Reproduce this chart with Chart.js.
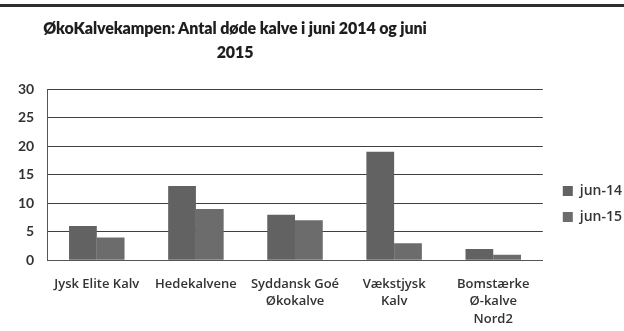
<!DOCTYPE html>
<html>
<head>
<meta charset="utf-8">
<script src="https://cdn.jsdelivr.net/npm/chart.js@4"></script>
<style>
  html, body { margin: 0; padding: 0; background: #fff; }
  #wrap { position: relative; width: 624px; height: 331px; overflow: hidden; background: #fff; }
  #topline { position: absolute; left: 0; top: 4px; width: 624px; height: 3px; background: #2e2e2e; }
  #title {
    position: absolute; left: 15px; top: 16px; width: 440px;
    text-align: center; font: 800 16px Lato, "DejaVu Sans", sans-serif;
    color: #1e1e1e; line-height: 24px; letter-spacing: -0.1px;
  }
  #chartBox { position: absolute; left: 0; top: 0; width: 624px; height: 331px; }
</style>
</head>
<body>
<div id="wrap">
  <div id="topline"></div>
  <div id="chartBox"><canvas id="calfChart"></canvas></div>
  <div id="title">ØkoKalvekampen: Antal døde kalve i juni 2014 og juni<br>2015</div>
</div>
<script>
// Herds and number of dead calves per month
const herds = [
  "Jysk Elite Kalv",
  "Hedekalvene",
  ["Syddansk Goé", "Økokalve"],
  ["Vækstjysk", "Kalv"],
  ["Bomstærke", "Ø-kalve", "Nord2"]
];
const seriesNames = ["jun-14", "jun-15"];
const deadJun14 = [6, 13, 8, 19, 2];
const deadJun15 = [4, 9, 7, 3, 1];
const yTicks = [0, 5, 10, 15, 20, 25, 30];

const ink = "#333";

// nudge the legend up and to the right
const legendNudge = {
  id: "legendNudge",
  afterLayout(chart) {
    const lg = chart.legend;
    if (!lg) return;
    lg.top -= 6; lg.bottom -= 6;
    lg.left += 8; lg.right += 8;
  }
};

const ctx = document.getElementById("calfChart").getContext("2d");
new Chart(ctx, {
  type: "bar",
  data: {
    labels: herds,
    datasets: [
      { label: seriesNames[0], data: deadJun14, backgroundColor: "#626262" },
      { label: seriesNames[1], data: deadJun15, backgroundColor: "#6c6c6c" }
    ]
  },
  plugins: [legendNudge],
  options: {
    responsive: true,
    maintainAspectRatio: false,
    animation: false,
    layout: { padding: { top: 89, left: 5, right: 0, bottom: 0 } },
    datasets: { bar: { categoryPercentage: 0.56, barPercentage: 1.0 } },
    plugins: {
      tooltip: { enabled: false },
      legend: {
        position: "right",
        labels: {
          boxWidth: 10,
          boxHeight: 10,
          padding: 12,
          color: ink,
          font: { family: "Open Sans", size: 14, weight: "600" }
        }
      }
    },
    scales: {
      x: {
        grid: { display: false, drawTicks: false },
        border: { color: "#555", width: 1 },
        afterFit: s => { s.height -= 12; },
        ticks: {
          color: ink,
          maxRotation: 0,
          autoSkip: false,
          padding: 15,
          font: { family: "Open Sans", size: 13, weight: "600", lineHeight: 1.35 }
        }
      },
      y: {
        min: 0,
        max: 30,
        afterBuildTicks: axis => { axis.ticks = yTicks.map(v => ({ value: v })); },
        grid: { color: "#404040", lineWidth: 1, drawTicks: false },
        border: { color: "#555", width: 1 },
        ticks: {
          color: ink,
          padding: 13,
          font: { family: "Lato", size: 14, weight: "bold" }
        }
      }
    }
  }
});
</script>
</body>
</html>
